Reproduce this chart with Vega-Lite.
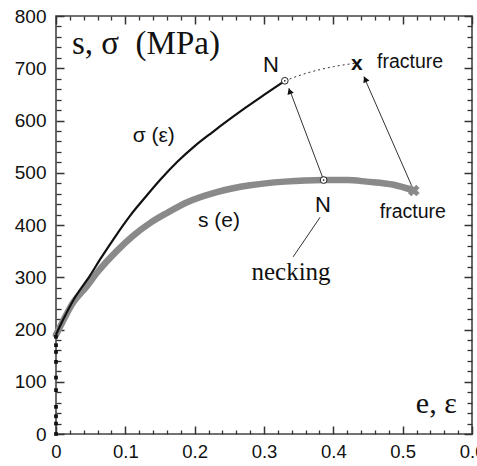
{
  "$schema": "https://vega.github.io/schema/vega-lite/v6.json",
  "width": 416,
  "height": 418,
  "autosize": {"type": "none"},
  "padding": {"left": 56, "top": 16, "right": 5, "bottom": 32},
  "background": "white",
  "config": {"view": {"stroke": "#444", "strokeWidth": 1.6}, "axis": {"grid": false, "title": null, "domain": false}},
  "datasets": {
    "se": [
      {"e": 0.0, "s": 190}, {"e": 0.01, "s": 216}, {"e": 0.025, "s": 252}, {"e": 0.044, "s": 282},
      {"e": 0.06, "s": 310}, {"e": 0.0875, "s": 350}, {"e": 0.11, "s": 378}, {"e": 0.136, "s": 404},
      {"e": 0.16, "s": 423}, {"e": 0.19, "s": 444}, {"e": 0.232, "s": 463}, {"e": 0.28, "s": 476},
      {"e": 0.33, "s": 483}, {"e": 0.386, "s": 486}, {"e": 0.42, "s": 486}, {"e": 0.448, "s": 483},
      {"e": 0.487, "s": 477}, {"e": 0.516, "s": 466}
    ],
    "sig": [
      {"e": 0.0, "s": 190}, {"e": 0.01, "s": 218}, {"e": 0.025, "s": 256}, {"e": 0.049, "s": 303},
      {"e": 0.065, "s": 337}, {"e": 0.085, "s": 377}, {"e": 0.107, "s": 418}, {"e": 0.13, "s": 455},
      {"e": 0.15, "s": 486}, {"e": 0.175, "s": 521}, {"e": 0.2, "s": 551}, {"e": 0.225, "s": 577},
      {"e": 0.25, "s": 602}, {"e": 0.275, "s": 626}, {"e": 0.3, "s": 649}, {"e": 0.33, "s": 676}
    ],
    "dotted": [
      {"e": 0.33, "s": 676}, {"e": 0.36, "s": 690}, {"e": 0.40, "s": 703}, {"e": 0.434, "s": 710}
    ],
    "elastic": [
      {"e": 0, "s": 0}, {"e": 0, "s": 20}, {"e": 0, "s": 34}, {"e": 0, "s": 52}, {"e": 0, "s": 84},
      {"e": 0, "s": 108}, {"e": 0, "s": 138}, {"e": 0, "s": 157}, {"e": 0, "s": 170}, {"e": 0, "s": 186}
    ],
    "arrows": [
      {"e": 0.386, "s": 486, "e2": 0.336, "s2": 662},
      {"e": 0.516, "s": 466, "e2": 0.444, "s2": 684},
      {"e": 0.381, "s": 415, "e2": 0.342, "s2": 339}
    ],
    "heads": [
      {"e": 0.337, "s": 656, "angle": 340},
      {"e": 0.446, "s": 679, "angle": 336}
    ],
    "circles": [
      {"e": 0.33, "s": 676}, {"e": 0.386, "s": 486}
    ],
    "texts": [
      {"kind": "title", "text": "s, σ\u00a0\u00a0(MPa)", "e": 0.023, "s": 727},
      {"kind": "axisname", "text": "e, ε", "e": 0.578, "s": 40},
      {"kind": "necking", "text": "necking", "e": 0.339, "s": 310},
      {"kind": "curve", "text": "σ (ε)", "e": 0.141, "s": 570},
      {"kind": "curve", "text": "s (e)", "e": 0.235, "s": 408},
      {"kind": "N", "text": "N", "e": 0.31, "s": 706},
      {"kind": "N", "text": "N", "e": 0.385, "s": 438},
      {"kind": "fracture", "text": "fracture", "e": 0.463, "s": 712},
      {"kind": "fracture", "text": "fracture", "e": 0.467, "s": 425},
      {"kind": "x", "text": "x", "e": 0.434, "s": 709}
    ],
    "gx": [{"e": 0.516, "s": 466}]
  },
  "encoding": {
    "x": {"field": "e", "type": "quantitative", "scale": {"domain": [0, 0.6], "nice": false, "zero": false}, "axis": null},
    "y": {"field": "s", "type": "quantitative", "scale": {"domain": [0, 800], "nice": false, "zero": false}, "axis": null}
  },
  "layer": [
    {
      "data": {"name": "se"},
      "mark": {"type": "line", "color": "#8a8a8a", "strokeWidth": 6.5, "strokeCap": "round", "interpolate": "monotone"},
      "encoding": {
        "x": {"field": "e", "type": "quantitative",
          "axis": {
            "orient": "bottom", "offset": -8,
            "values": [0, 0.1, 0.2, 0.3, 0.4, 0.5, 0.6],
            "labelExpr": "datum.value == 0 ? '0' : format(datum.value, '.1f')",
            "tickSize": 8, "tickColor": "#333", "tickWidth": 1.5,
            "labelFont": "Liberation Sans", "labelFontSize": 18.5, "labelColor": "#111",
            "labelPadding": 8, "labelOverlap": false, "labelBound": false, "labelFlush": false
          }},
        "y": {"field": "s", "type": "quantitative",
          "axis": {
            "orient": "left", "offset": -8,
            "values": [0, 100, 200, 300, 400, 500, 600, 700, 800],
            "tickSize": 8, "tickColor": "#333", "tickWidth": 1.5,
            "labelFont": "Liberation Sans", "labelFontSize": 19, "labelColor": "#111",
            "labelPadding": 10, "labelOverlap": false, "labelBound": false, "labelFlush": false
          }}
      }
    },
    {
      "data": {"name": "sig"},
      "mark": {"type": "line", "color": "#111", "strokeWidth": 2.2, "interpolate": "monotone"},
      "encoding": {
        "x": {"field": "e", "type": "quantitative",
          "axis": {
            "orient": "top", "offset": -8,
            "values": [0, 0.1, 0.2, 0.3, 0.4, 0.5, 0.6],
            "labels": false,
            "tickSize": 8, "tickColor": "#333", "tickWidth": 1.5
          }},
        "y": {"field": "s", "type": "quantitative",
          "axis": {
            "orient": "right", "offset": -8,
            "values": [0, 100, 200, 300, 400, 500, 600, 700, 800],
            "labels": false,
            "tickSize": 8, "tickColor": "#333", "tickWidth": 1.5
          }}
      }
    },
    {
      "data": {"name": "dotted"},
      "mark": {"type": "line", "color": "#333", "strokeWidth": 1, "strokeDash": [2, 3], "interpolate": "monotone"},
      "encoding": {
        "x": {"field": "e", "type": "quantitative",
          "axis": {
            "orient": "bottom", "offset": -4,
            "values": [0.02,0.04,0.06,0.08,0.12,0.14,0.16,0.18,0.22,0.24,0.26,0.28,0.32,0.34,0.36,0.38,0.42,0.44,0.46,0.48,0.52,0.54,0.56,0.58],
            "labels": false,
            "tickSize": 4, "tickColor": "#333", "tickWidth": 1.3
          }},
        "y": {"field": "s", "type": "quantitative",
          "axis": {
            "orient": "left", "offset": -5,
            "values": [20,40,60,80,120,140,160,180,220,240,260,280,320,340,360,380,420,440,460,480,520,540,560,580,620,640,660,680,720,740,760,780],
            "labels": false,
            "tickSize": 5, "tickColor": "#333", "tickWidth": 1.3
          }}
      }
    },
    {
      "data": {"name": "elastic"},
      "mark": {"type": "point", "shape": "square", "filled": true, "color": "#111", "size": 14, "opacity": 1},
      "encoding": {
        "x": {"field": "e", "type": "quantitative",
          "axis": {
            "orient": "top", "offset": -4,
            "values": [0.02,0.04,0.06,0.08,0.12,0.14,0.16,0.18,0.22,0.24,0.26,0.28,0.32,0.34,0.36,0.38,0.42,0.44,0.46,0.48,0.52,0.54,0.56,0.58],
            "labels": false,
            "tickSize": 4, "tickColor": "#333", "tickWidth": 1.3
          }},
        "y": {"field": "s", "type": "quantitative",
          "axis": {
            "orient": "right", "offset": -5,
            "values": [20,40,60,80,120,140,160,180,220,240,260,280,320,340,360,380,420,440,460,480,520,540,560,580,620,640,660,680,720,740,760,780],
            "labels": false,
            "tickSize": 5, "tickColor": "#333", "tickWidth": 1.3
          }}
      }
    },
    {
      "data": {"name": "arrows"},
      "mark": {"type": "rule", "color": "#333", "strokeWidth": 1},
      "encoding": {"x2": {"field": "e2"}, "y2": {"field": "s2"}}
    },
    {
      "data": {"name": "heads"},
      "mark": {"type": "point", "shape": "triangle-up", "filled": true, "color": "#111", "size": 45, "opacity": 1},
      "encoding": {"angle": {"field": "angle", "type": "quantitative", "scale": null}}
    },
    {
      "data": {"name": "circles"},
      "mark": {"type": "point", "shape": "circle", "filled": true, "fill": "white", "stroke": "#222", "strokeWidth": 1, "size": 45, "opacity": 1}
    },
    {
      "data": {"name": "circles"},
      "mark": {"type": "point", "shape": "circle", "filled": true, "color": "#222", "size": 3, "opacity": 1}
    },
    {
      "data": {"name": "gx"},
      "mark": {"type": "point", "shape": "cross", "filled": true, "color": "#8a8a8a", "size": 140, "angle": 45, "opacity": 1}
    },
    {
      "data": {"name": "texts"},
      "transform": [{"filter": "datum.kind == 'title'"}],
      "mark": {"type": "text", "font": "Liberation Serif", "fontSize": 33, "align": "left", "baseline": "alphabetic", "color": "#111"},
      "encoding": {"text": {"field": "text"}}
    },
    {
      "data": {"name": "texts"},
      "transform": [{"filter": "datum.kind == 'axisname'"}],
      "mark": {"type": "text", "font": "Liberation Serif", "fontSize": 30, "align": "right", "baseline": "alphabetic", "color": "#111"},
      "encoding": {"text": {"field": "text"}}
    },
    {
      "data": {"name": "texts"},
      "transform": [{"filter": "datum.kind == 'necking'"}],
      "mark": {"type": "text", "font": "Liberation Serif", "fontSize": 25, "align": "center", "baseline": "middle", "color": "#111"},
      "encoding": {"text": {"field": "text"}}
    },
    {
      "data": {"name": "texts"},
      "transform": [{"filter": "datum.kind == 'curve'"}],
      "mark": {"type": "text", "font": "Liberation Sans", "fontSize": 21, "align": "center", "baseline": "middle", "color": "#111"},
      "encoding": {"text": {"field": "text"}}
    },
    {
      "data": {"name": "texts"},
      "transform": [{"filter": "datum.kind == 'N'"}],
      "mark": {"type": "text", "font": "Liberation Sans", "fontSize": 22, "align": "center", "baseline": "middle", "color": "#111"},
      "encoding": {"text": {"field": "text"}}
    },
    {
      "data": {"name": "texts"},
      "transform": [{"filter": "datum.kind == 'fracture'"}],
      "mark": {"type": "text", "font": "Liberation Sans", "fontSize": 19.5, "align": "left", "baseline": "middle", "color": "#111"},
      "encoding": {"text": {"field": "text"}}
    },
    {
      "data": {"name": "texts"},
      "transform": [{"filter": "datum.kind == 'x'"}],
      "mark": {"type": "text", "font": "Liberation Sans", "fontSize": 21, "fontWeight": "bold", "align": "center", "baseline": "middle", "color": "#111"},
      "encoding": {"text": {"field": "text"}}
    }
  ]
}
